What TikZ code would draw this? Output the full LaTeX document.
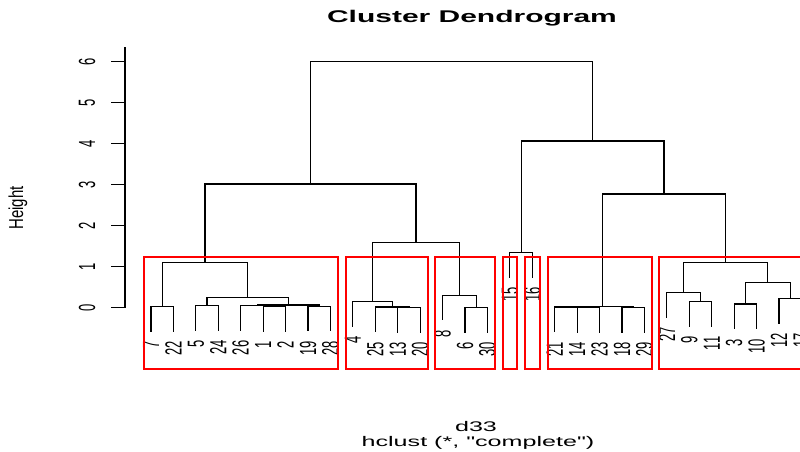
\documentclass[tikz,border=0pt]{standalone}
\usepackage{fontspec}
\setmainfont{Liberation Sans}
\newfontfamily\plainfont{Liberation Sans}
\usepackage{graphicx}
% vertical position (pixels from the top) of a merge height
\newcommand\hgt[1]{307.5-41*#1}
\begin{document}
\begin{tikzpicture}[x=1bp,y=-1bp,
  tree/.style={line width=1.2bp, black, line cap=rect},
  cut/.style={draw=red, line width=1.6bp},
  leaflab/.style={anchor=north, inner sep=0pt, font=\fontsize{13}{15}\selectfont},
  ticklab/.style={anchor=center, inner sep=0pt, font=\fontsize{13}{15}\selectfont},
  plain/.style={inner sep=0pt, font=\plainfont\fontsize{14}{16}\selectfont}]
\useasboundingbox (0,0) rectangle (800,452);
\fill[white] (0,0) rectangle (800,452);
\clip (0,0) rectangle (800,452);

% title and axis captions
\node[plain, anchor=base, font=\plainfont\fontsize{17}{20}\selectfont\bfseries] (title) at (472,23) {\scalebox{1.77}[1]{Cluster Dendrogram}};
\node[plain, anchor=base] (xlab) at (476,431) {\scalebox{1.8}[1]{d33}};
\node[plain, anchor=base] (sub) at (478,446) {\scalebox{1.8}[1]{hclust (*, "complete")}};
\node[plain] (ylab) at (18,208) {\rotatebox{90}{\scalebox{1}[1.35]{\fontsize{15}{17}\selectfont Height}}};

% height axis
\draw[tree] (125,48) -- (125,{\hgt{0}});
\foreach \t in {0,...,6} {
  \draw[tree] (125,{\hgt{\t}}) -- (112,{\hgt{\t}});
  \node[ticklab] (T\t) at (87,{\hgt{\t}}) {\rotatebox{90}{\scalebox{1}[1.8]{\t}}};
}

% leaves: position / label / height of the merge they hang from
\foreach \i/\lab/\ph in {0/7/0.02, 1/22/0.02, 2/5/0.05, 3/24/0.05, 4/26/0.04,
    5/1/0.02, 6/2/0.02, 7/19/0.03, 8/28/0.03, 9/4/0.14, 10/25/0.01, 11/13/0.0,
    12/20/0.0, 13/8/0.30, 14/6/0.0, 15/30/0.0, 16/15/1.34, 17/16/1.34,
    18/21/0.01, 19/14/0.0, 20/23/0.0, 21/18/0.0, 22/29/0.0, 23/27/0.36,
    24/9/0.14, 25/11/0.14, 26/3/0.085, 27/10/0.085, 28/12/0.22, 29/17/0.22} {
  \coordinate (L\lab) at ({151+22.43*\i},{307.5-41*(\ph-0.6)});
  \node[leaflab] (N\lab) at ([yshift=-10bp]L\lab) {\rotatebox{90}{\scalebox{1}[1.8]{\lab}}};
}

% merge points
\coordinate (a1) at (162.215,{\hgt{0.02}});
\coordinate (a2) at (207.075,{\hgt{0.05}});
\coordinate (a3) at (274.365,{\hgt{0.02}});
\coordinate (a4) at (257.5425,{\hgt{0.04}});
\coordinate (a5) at (319.225,{\hgt{0.03}});
\coordinate (a6) at (288.38,{\hgt{0.06}});
\coordinate (a7) at (247.73,{\hgt{0.25}});
\coordinate (A) at (204.97,{\hgt{1.09}});
\coordinate (b1) at (408.945,{\hgt{0.0}});
\coordinate (b2) at (392.12,{\hgt{0.01}});
\coordinate (B) at (372.50,{\hgt{0.14}});
\coordinate (c1) at (476.235,{\hgt{0.0}});
\coordinate (C) at (459.41,{\hgt{0.30}});
\coordinate (BC) at (415.96,{\hgt{1.58}});
\coordinate (AB) at (310.47,{\hgt{3.01}});
\coordinate (F) at (521.10,{\hgt{1.34}});
\coordinate (d1) at (588.385,{\hgt{0.0}});
\coordinate (d2) at (571.56,{\hgt{0.01}});
\coordinate (d3) at (633.245,{\hgt{0.0}});
\coordinate (D) at (602.40,{\hgt{0.02}});
\coordinate (e1) at (700.535,{\hgt{0.14}});
\coordinate (e2) at (683.71,{\hgt{0.36}});
\coordinate (e3) at (745.395,{\hgt{0.085}});
\coordinate (e4) at (790.255,{\hgt{0.22}});
\coordinate (e5) at (767.825,{\hgt{0.60}});
\coordinate (E) at (725.77,{\hgt{1.09}});
\coordinate (DE) at (664.085,{\hgt{2.77}});
\coordinate (FDE) at (592.59,{\hgt{4.06}});
\coordinate (root) at (451.53,{\hgt{6.0}});

% branches
\draw[tree] (L7) |- (a1) -| (L22);
\draw[tree] (L5) |- (a2) -| (L24);
\draw[tree] (L1) |- (a3) -| (L2);
\draw[tree] (L26) |- (a4) -| (a3);
\draw[tree] (L19) |- (a5) -| (L28);
\draw[tree] (a4) |- (a6) -| (a5);
\draw[tree] (a2) |- (a7) -| (a6);
\draw[tree] (a1) |- (A) -| (a7);
\draw[tree] (L13) |- (b1) -| (L20);
\draw[tree] (L25) |- (b2) -| (b1);
\draw[tree] (L4) |- (B) -| (b2);
\draw[tree] (L6) |- (c1) -| (L30);
\draw[tree] (L8) |- (C) -| (c1);
\draw[tree] (B) |- (BC) -| (C);
\draw[tree] (A) |- (AB) -| (BC);
\draw[tree] (L15) |- (F) -| (L16);
\draw[tree] (L14) |- (d1) -| (L23);
\draw[tree] (L21) |- (d2) -| (d1);
\draw[tree] (L18) |- (d3) -| (L29);
\draw[tree] (d2) |- (D) -| (d3);
\draw[tree] (L9) |- (e1) -| (L11);
\draw[tree] (L27) |- (e2) -| (e1);
\draw[tree] (L3) |- (e3) -| (L10);
\draw[tree] (L12) |- (e4) -| (L17);
\draw[tree] (e3) |- (e5) -| (e4);
\draw[tree] (e2) |- (E) -| (e5);
\draw[tree] (D) |- (DE) -| (E);
\draw[tree] (F) |- (FDE) -| (DE);
\draw[tree] (AB) |- (root) -| (FDE);

% boxes round the seven clusters
\draw[cut] (144,257) rectangle (338,369);
\draw[cut] (346,257) rectangle (428,369);
\draw[cut] (435,257) rectangle (495,369);
\draw[cut] (503,257) rectangle (517,369);
\draw[cut] (525,257) rectangle (540,369);
\draw[cut] (548,257) rectangle (652,369);
\draw[cut] (659,257) rectangle (809,369);
\end{tikzpicture}
\end{document}
